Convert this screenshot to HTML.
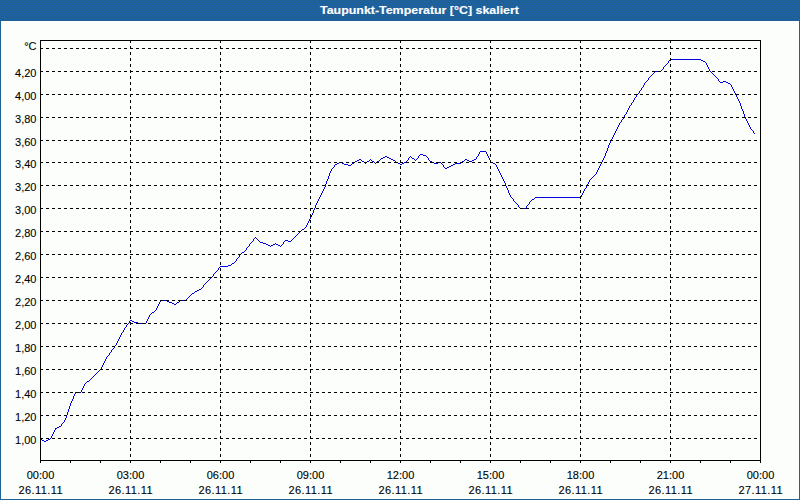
<!DOCTYPE html>
<html lang="de"><head><meta charset="utf-8"><title>Taupunkt-Temperatur [°C] skaliert</title>
<style>
html,body{margin:0;padding:0;background:#fcfefb;}
body{width:800px;height:500px;overflow:hidden;position:relative;font-family:"Liberation Sans", sans-serif;}
svg{position:absolute;left:0;top:0;display:block}
text{font-family:"Liberation Sans", sans-serif;font-size:11px;fill:#000;stroke:#000;stroke-width:0.1px}
.t{font-weight:bold;fill:#fff;font-size:11px;stroke:#fff;stroke-width:0.15px}
</style></head><body>
<svg width="800" height="500" viewBox="0 0 800 500">
<rect x="0" y="0" width="800" height="500" fill="#fcfefb"/>
<defs><pattern id="dz" width="4" height="4" patternUnits="userSpaceOnUse"><rect width="4" height="4" fill="#1e6194"/><path fill="#2365b4" d="M0 1h1v1h-1zM2 3h1v1h-1z"/></pattern></defs>
<rect x="0" y="0" width="800" height="21" fill="#1e6194"/>
<rect x="0" y="0" width="800" height="20" fill="url(#dz)" shape-rendering="crispEdges"/>
<rect x="0" y="21" width="1" height="479" fill="#1e6194"/>
<rect x="799" y="21" width="1" height="479" fill="#1e6194"/>
<rect x="0" y="499" width="800" height="1" fill="#1e6194"/>
<text class="t" x="320" y="14" textLength="199" lengthAdjust="spacingAndGlyphs">Taupunkt-Temperatur [°C] skaliert</text>
<path shape-rendering="crispEdges" fill="#0000e0" stroke="none" d="M40 439h2v1h-2zM42 440h2v1h-2zM44 441h2v1h-2zM46 440h2v1h-2zM48 439h2v1h-2zM50 438h1v1h-1zM51 436h1v2h-1zM52 434h1v2h-1zM53 432h1v2h-1zM54 430h1v2h-1zM55 428h2v1h-2zM55 429h1v1h-1zM57 427h2v1h-2zM59 426h2v1h-2zM61 424h1v2h-1zM62 423h1v1h-1zM63 422h1v1h-1zM64 420h1v2h-1zM65 418h1v2h-1zM66 415h1v3h-1zM67 412h1v3h-1zM68 409h1v3h-1zM69 406h1v3h-1zM70 403h1v3h-1zM71 401h1v2h-1zM72 399h1v2h-1zM73 396h1v3h-1zM74 394h1v2h-1zM75 392h6v1h-6zM75 393h1v1h-1zM81 390h1v2h-1zM82 388h1v2h-1zM83 386h1v2h-1zM84 384h1v2h-1zM85 383h1v1h-1zM86 382h1v1h-1zM87 381h2v1h-2zM89 380h1v1h-1zM90 379h1v1h-1zM91 378h1v1h-1zM92 377h1v1h-1zM93 376h1v1h-1zM94 375h1v1h-1zM95 374h1v1h-1zM96 373h1v1h-1zM97 372h1v1h-1zM98 371h1v1h-1zM99 370h1v1h-1zM100 369h1v1h-1zM101 367h1v2h-1zM102 365h1v2h-1zM103 363h1v2h-1zM104 361h1v2h-1zM105 359h1v2h-1zM106 357h1v2h-1zM107 356h1v1h-1zM108 355h1v1h-1zM109 353h1v2h-1zM110 352h1v1h-1zM111 350h1v2h-1zM112 349h1v1h-1zM113 348h1v1h-1zM114 346h1v2h-1zM115 345h1v1h-1zM116 343h1v2h-1zM117 341h1v2h-1zM118 339h1v2h-1zM119 337h1v2h-1zM120 335h1v2h-1zM121 333h1v2h-1zM122 332h1v1h-1zM123 330h1v2h-1zM124 328h1v2h-1zM125 327h1v1h-1zM126 325h1v2h-1zM127 324h1v1h-1zM128 323h1v1h-1zM129 321h1v2h-1zM130 320h2v1h-2zM132 321h2v1h-2zM134 322h4v1h-4zM138 323h8v1h-8zM146 321h1v2h-1zM147 319h1v2h-1zM148 317h1v2h-1zM149 315h1v2h-1zM150 314h1v1h-1zM151 313h1v1h-1zM152 312h2v1h-2zM154 311h1v1h-1zM155 310h1v1h-1zM156 308h1v2h-1zM157 306h1v2h-1zM158 304h1v2h-1zM159 302h1v2h-1zM160 300h7v1h-7zM160 301h1v1h-1zM167 301h2v1h-2zM169 302h3v1h-3zM172 303h2v1h-2zM174 304h2v1h-2zM176 303h1v1h-1zM177 302h2v1h-2zM179 301h1v1h-1zM180 300h6v1h-6zM186 299h1v1h-1zM187 298h1v1h-1zM188 297h1v1h-1zM189 296h1v1h-1zM190 295h1v1h-1zM191 294h1v1h-1zM192 293h2v1h-2zM194 292h1v1h-1zM195 291h2v1h-2zM197 290h2v1h-2zM199 289h2v1h-2zM201 288h1v1h-1zM202 287h1v1h-1zM203 285h1v2h-1zM204 284h1v1h-1zM205 283h1v1h-1zM206 282h1v1h-1zM207 281h1v1h-1zM208 280h1v1h-1zM209 279h1v1h-1zM210 278h1v1h-1zM211 277h1v1h-1zM212 276h1v1h-1zM213 274h1v2h-1zM214 273h1v1h-1zM215 272h1v1h-1zM216 271h1v1h-1zM217 270h1v1h-1zM218 268h1v2h-1zM219 267h1v1h-1zM220 266h8v1h-8zM228 265h3v1h-3zM231 264h1v1h-1zM232 263h2v1h-2zM234 262h1v1h-1zM235 261h1v1h-1zM236 259h1v2h-1zM237 258h1v1h-1zM238 257h1v1h-1zM239 255h1v2h-1zM240 254h1v1h-1zM241 253h1v1h-1zM242 252h2v1h-2zM244 251h1v1h-1zM245 250h1v1h-1zM246 248h1v2h-1zM247 247h1v1h-1zM248 246h1v1h-1zM249 244h1v2h-1zM250 243h1v1h-1zM251 242h1v1h-1zM252 241h1v1h-1zM253 239h1v2h-1zM254 238h1v1h-1zM255 237h1v1h-1zM256 238h1v1h-1zM257 239h1v1h-1zM258 240h1v1h-1zM259 241h1v1h-1zM260 242h3v1h-3zM263 243h3v1h-3zM266 244h2v1h-2zM268 245h2v1h-2zM270 246h1v1h-1zM271 245h2v1h-2zM273 244h2v1h-2zM275 243h1v1h-1zM276 244h2v1h-2zM278 245h2v1h-2zM280 246h1v1h-1zM281 245h1v1h-1zM282 244h1v1h-1zM283 242h1v2h-1zM284 241h1v1h-1zM285 240h3v1h-3zM288 241h3v1h-3zM291 240h1v1h-1zM292 239h1v1h-1zM293 238h1v1h-1zM294 237h1v1h-1zM295 236h1v1h-1zM296 235h1v1h-1zM297 234h1v1h-1zM298 233h1v1h-1zM299 232h1v1h-1zM300 231h1v1h-1zM301 230h1v1h-1zM302 229h2v1h-2zM304 228h1v1h-1zM305 227h1v1h-1zM306 225h1v2h-1zM307 223h1v2h-1zM308 221h1v2h-1zM309 219h1v2h-1zM310 217h1v2h-1zM311 215h1v2h-1zM312 213h1v2h-1zM313 210h1v3h-1zM314 208h1v2h-1zM315 205h1v3h-1zM316 203h1v2h-1zM317 201h1v2h-1zM318 199h1v2h-1zM319 197h1v2h-1zM320 195h1v2h-1zM321 193h1v2h-1zM322 191h1v2h-1zM323 189h1v2h-1zM324 187h1v2h-1zM325 184h1v3h-1zM326 181h1v3h-1zM327 179h1v2h-1zM328 176h1v3h-1zM329 173h1v3h-1zM330 171h1v2h-1zM331 169h1v2h-1zM332 168h1v1h-1zM333 167h1v1h-1zM334 165h1v2h-1zM335 164h2v1h-2zM337 163h2v1h-2zM339 162h3v1h-3zM342 163h2v1h-2zM344 164h4v1h-4zM348 165h3v1h-3zM351 164h1v1h-1zM352 163h2v1h-2zM354 162h1v1h-1zM355 161h2v1h-2zM357 160h2v1h-2zM359 159h2v1h-2zM361 160h1v1h-1zM362 161h2v1h-2zM364 162h1v1h-1zM365 163h1v1h-1zM366 162h1v1h-1zM367 161h2v1h-2zM369 160h1v1h-1zM370 159h1v1h-1zM371 160h1v1h-1zM372 161h2v1h-2zM374 162h1v1h-1zM375 163h1v1h-1zM376 162h1v1h-1zM377 161h2v1h-2zM379 160h1v1h-1zM380 159h1v1h-1zM381 158h2v1h-2zM383 157h2v1h-2zM385 156h2v1h-2zM387 157h2v1h-2zM389 158h2v1h-2zM391 159h2v1h-2zM393 160h2v1h-2zM395 161h1v1h-1zM396 162h2v1h-2zM398 163h2v1h-2zM400 164h2v1h-2zM402 163h2v1h-2zM404 162h2v1h-2zM406 161h1v1h-1zM407 160h1v1h-1zM408 158h1v2h-1zM409 157h1v1h-1zM410 156h1v1h-1zM411 157h1v1h-1zM412 158h2v1h-2zM414 159h1v1h-1zM415 160h1v1h-1zM416 159h1v1h-1zM417 158h1v1h-1zM418 156h1v2h-1zM419 155h1v1h-1zM420 154h3v1h-3zM423 155h3v1h-3zM426 156h1v1h-1zM427 157h1v1h-1zM428 158h1v2h-1zM429 160h1v1h-1zM430 161h2v1h-2zM432 162h2v1h-2zM434 163h4v1h-4zM438 162h3v1h-3zM441 163h1v1h-1zM442 164h1v1h-1zM443 165h1v2h-1zM444 167h1v1h-1zM445 168h2v1h-2zM447 167h2v1h-2zM449 166h2v1h-2zM451 165h2v1h-2zM453 164h2v1h-2zM455 163h6v1h-6zM461 162h1v1h-1zM462 161h2v1h-2zM464 160h1v1h-1zM465 159h2v1h-2zM467 160h2v1h-2zM469 161h3v1h-3zM472 160h2v1h-2zM474 159h2v1h-2zM476 157h1v2h-1zM477 156h1v1h-1zM478 154h1v2h-1zM479 152h1v2h-1zM480 151h6v1h-6zM486 152h1v2h-1zM487 154h1v2h-1zM488 156h1v2h-1zM489 158h1v2h-1zM490 160h1v2h-1zM491 162h2v1h-2zM493 163h2v1h-2zM495 164h1v1h-1zM496 165h1v2h-1zM497 167h1v2h-1zM498 169h1v2h-1zM499 171h1v2h-1zM500 173h1v2h-1zM501 175h1v2h-1zM502 177h1v2h-1zM503 179h1v2h-1zM504 181h1v2h-1zM505 183h1v3h-1zM506 186h1v2h-1zM507 188h1v2h-1zM508 190h1v3h-1zM509 193h1v2h-1zM510 195h1v2h-1zM511 197h1v1h-1zM512 198h1v1h-1zM513 199h1v2h-1zM514 201h1v1h-1zM515 202h1v1h-1zM516 203h1v1h-1zM517 204h1v1h-1zM518 205h1v2h-1zM519 207h1v1h-1zM520 208h6v1h-6zM526 206h1v2h-1zM527 205h1v1h-1zM528 204h1v1h-1zM529 202h1v2h-1zM530 201h1v1h-1zM531 200h1v1h-1zM532 199h2v1h-2zM534 198h1v1h-1zM535 197h46v1h-46zM581 195h1v2h-1zM582 193h1v2h-1zM583 191h1v2h-1zM584 189h1v2h-1zM585 188h1v1h-1zM586 186h1v2h-1zM587 184h1v2h-1zM588 182h1v2h-1zM589 180h1v2h-1zM590 179h1v1h-1zM591 178h1v1h-1zM592 177h1v1h-1zM593 176h1v1h-1zM594 175h1v1h-1zM595 174h1v1h-1zM596 172h1v2h-1zM597 170h1v2h-1zM598 168h1v2h-1zM599 166h1v2h-1zM600 164h1v2h-1zM601 162h1v2h-1zM602 160h1v2h-1zM603 158h1v2h-1zM604 156h1v2h-1zM605 153h1v3h-1zM606 151h1v2h-1zM607 148h1v3h-1zM608 145h1v3h-1zM609 143h1v2h-1zM610 141h1v2h-1zM611 139h1v2h-1zM612 137h1v2h-1zM613 135h1v2h-1zM614 133h1v2h-1zM615 131h1v2h-1zM616 129h1v2h-1zM617 127h1v2h-1zM618 125h1v2h-1zM619 123h1v2h-1zM620 122h1v1h-1zM621 120h1v2h-1zM622 119h1v1h-1zM623 117h1v2h-1zM624 115h1v2h-1zM625 114h1v1h-1zM626 112h1v2h-1zM627 110h1v2h-1zM628 108h1v2h-1zM629 106h1v2h-1zM630 105h1v1h-1zM631 103h1v2h-1zM632 102h1v1h-1zM633 100h1v2h-1zM634 98h1v2h-1zM635 97h1v1h-1zM636 95h1v2h-1zM637 94h1v1h-1zM638 93h1v1h-1zM639 91h1v2h-1zM640 90h1v1h-1zM641 88h1v2h-1zM642 87h1v1h-1zM643 85h1v2h-1zM644 83h1v2h-1zM645 82h1v1h-1zM646 81h1v1h-1zM647 80h1v1h-1zM648 78h1v2h-1zM649 77h1v1h-1zM650 76h1v1h-1zM651 75h1v1h-1zM652 74h1v1h-1zM653 73h1v1h-1zM654 72h1v1h-1zM655 71h6v1h-6zM661 70h1v1h-1zM662 69h1v1h-1zM663 67h1v2h-1zM664 66h1v1h-1zM665 65h1v1h-1zM666 64h1v1h-1zM667 63h1v1h-1zM668 61h1v2h-1zM669 60h1v1h-1zM670 59h31v1h-31zM701 60h2v1h-2zM703 61h2v1h-2zM705 62h1v1h-1zM706 63h1v2h-1zM707 65h1v2h-1zM708 67h1v2h-1zM709 69h1v2h-1zM710 71h1v1h-1zM711 72h1v1h-1zM712 73h1v1h-1zM713 74h1v1h-1zM714 75h1v1h-1zM715 76h1v1h-1zM716 77h1v1h-1zM717 78h1v1h-1zM718 79h1v2h-1zM719 81h1v1h-1zM720 82h3v1h-3zM723 81h3v1h-3zM726 82h2v1h-2zM728 83h2v1h-2zM730 84h1v1h-1zM731 85h1v2h-1zM732 87h1v2h-1zM733 89h1v2h-1zM734 91h1v2h-1zM735 93h1v2h-1zM736 95h1v2h-1zM737 97h1v2h-1zM738 99h1v2h-1zM739 101h1v2h-1zM740 103h1v3h-1zM741 106h1v3h-1zM742 109h1v2h-1zM743 111h1v3h-1zM744 114h1v3h-1zM745 117h1v2h-1zM746 119h1v2h-1zM747 121h1v2h-1zM748 123h1v2h-1zM749 125h1v2h-1zM750 127h1v2h-1zM751 129h1v1h-1zM752 130h1v1h-1zM753 131h1v2h-1zM754 133h1v1h-1z"/>
<g shape-rendering="crispEdges" stroke="#000" stroke-width="1" fill="none">
<line x1="40" y1="438.5" x2="760" y2="438.5" stroke-dasharray="3 3"/>
<line x1="40" y1="415.5" x2="760" y2="415.5" stroke-dasharray="3 3"/>
<line x1="40" y1="392.5" x2="760" y2="392.5" stroke-dasharray="3 3"/>
<line x1="40" y1="369.5" x2="760" y2="369.5" stroke-dasharray="3 3"/>
<line x1="40" y1="346.5" x2="760" y2="346.5" stroke-dasharray="3 3"/>
<line x1="40" y1="323.5" x2="760" y2="323.5" stroke-dasharray="3 3"/>
<line x1="40" y1="300.5" x2="760" y2="300.5" stroke-dasharray="3 3"/>
<line x1="40" y1="277.5" x2="760" y2="277.5" stroke-dasharray="3 3"/>
<line x1="40" y1="254.5" x2="760" y2="254.5" stroke-dasharray="3 3"/>
<line x1="40" y1="231.5" x2="760" y2="231.5" stroke-dasharray="3 3"/>
<line x1="40" y1="208.5" x2="760" y2="208.5" stroke-dasharray="3 3"/>
<line x1="40" y1="185.5" x2="760" y2="185.5" stroke-dasharray="3 3"/>
<line x1="40" y1="162.5" x2="760" y2="162.5" stroke-dasharray="3 3"/>
<line x1="40" y1="140.5" x2="760" y2="140.5" stroke-dasharray="3 3"/>
<line x1="40" y1="117.5" x2="760" y2="117.5" stroke-dasharray="3 3"/>
<line x1="40" y1="94.5" x2="760" y2="94.5" stroke-dasharray="3 3"/>
<line x1="40" y1="71.5" x2="760" y2="71.5" stroke-dasharray="3 3"/>
<line x1="40" y1="48.5" x2="760" y2="48.5" stroke-dasharray="3 3"/>
<line x1="130.5" y1="40" x2="130.5" y2="460" stroke-dasharray="3 3"/>
<line x1="220.5" y1="40" x2="220.5" y2="460" stroke-dasharray="3 3"/>
<line x1="310.5" y1="40" x2="310.5" y2="460" stroke-dasharray="3 3"/>
<line x1="400.5" y1="40" x2="400.5" y2="460" stroke-dasharray="3 3"/>
<line x1="490.5" y1="40" x2="490.5" y2="460" stroke-dasharray="3 3"/>
<line x1="580.5" y1="40" x2="580.5" y2="460" stroke-dasharray="3 3"/>
<line x1="670.5" y1="40" x2="670.5" y2="460" stroke-dasharray="3 3"/>
</g>
<g shape-rendering="crispEdges" stroke="#000" stroke-width="1" fill="none">
<rect x="40.5" y="40.5" width="720" height="420"/>
<line x1="40.5" y1="461" x2="40.5" y2="463"/>
<line x1="70.5" y1="461" x2="70.5" y2="463"/>
<line x1="100.5" y1="461" x2="100.5" y2="463"/>
<line x1="130.5" y1="461" x2="130.5" y2="463"/>
<line x1="160.5" y1="461" x2="160.5" y2="463"/>
<line x1="190.5" y1="461" x2="190.5" y2="463"/>
<line x1="220.5" y1="461" x2="220.5" y2="463"/>
<line x1="250.5" y1="461" x2="250.5" y2="463"/>
<line x1="280.5" y1="461" x2="280.5" y2="463"/>
<line x1="310.5" y1="461" x2="310.5" y2="463"/>
<line x1="340.5" y1="461" x2="340.5" y2="463"/>
<line x1="370.5" y1="461" x2="370.5" y2="463"/>
<line x1="400.5" y1="461" x2="400.5" y2="463"/>
<line x1="430.5" y1="461" x2="430.5" y2="463"/>
<line x1="460.5" y1="461" x2="460.5" y2="463"/>
<line x1="490.5" y1="461" x2="490.5" y2="463"/>
<line x1="520.5" y1="461" x2="520.5" y2="463"/>
<line x1="550.5" y1="461" x2="550.5" y2="463"/>
<line x1="580.5" y1="461" x2="580.5" y2="463"/>
<line x1="610.5" y1="461" x2="610.5" y2="463"/>
<line x1="640.5" y1="461" x2="640.5" y2="463"/>
<line x1="670.5" y1="461" x2="670.5" y2="463"/>
<line x1="700.5" y1="461" x2="700.5" y2="463"/>
<line x1="730.5" y1="461" x2="730.5" y2="463"/>
<line x1="760.5" y1="461" x2="760.5" y2="463"/>
</g>
<text x="36.5" y="444" text-anchor="end">1,00</text>
<text x="36.5" y="421" text-anchor="end">1,20</text>
<text x="36.5" y="398" text-anchor="end">1,40</text>
<text x="36.5" y="375" text-anchor="end">1,60</text>
<text x="36.5" y="352" text-anchor="end">1,80</text>
<text x="36.5" y="329" text-anchor="end">2,00</text>
<text x="36.5" y="306" text-anchor="end">2,20</text>
<text x="36.5" y="283" text-anchor="end">2,40</text>
<text x="36.5" y="260" text-anchor="end">2,60</text>
<text x="36.5" y="237" text-anchor="end">2,80</text>
<text x="36.5" y="214" text-anchor="end">3,00</text>
<text x="36.5" y="191" text-anchor="end">3,20</text>
<text x="36.5" y="168" text-anchor="end">3,40</text>
<text x="36.5" y="146" text-anchor="end">3,60</text>
<text x="36.5" y="123" text-anchor="end">3,80</text>
<text x="36.5" y="100" text-anchor="end">4,00</text>
<text x="36.5" y="77" text-anchor="end">4,20</text>
<text x="36.5" y="50" text-anchor="end">°C</text>
<text x="40.5" y="479" text-anchor="middle">00:00</text>
<text x="18.5" y="494" textLength="44" lengthAdjust="spacing">26.11.11</text>
<text x="130.5" y="479" text-anchor="middle">03:00</text>
<text x="108.5" y="494" textLength="44" lengthAdjust="spacing">26.11.11</text>
<text x="220.5" y="479" text-anchor="middle">06:00</text>
<text x="198.5" y="494" textLength="44" lengthAdjust="spacing">26.11.11</text>
<text x="310.5" y="479" text-anchor="middle">09:00</text>
<text x="288.5" y="494" textLength="44" lengthAdjust="spacing">26.11.11</text>
<text x="400.5" y="479" text-anchor="middle">12:00</text>
<text x="378.5" y="494" textLength="44" lengthAdjust="spacing">26.11.11</text>
<text x="490.5" y="479" text-anchor="middle">15:00</text>
<text x="468.5" y="494" textLength="44" lengthAdjust="spacing">26.11.11</text>
<text x="580.5" y="479" text-anchor="middle">18:00</text>
<text x="558.5" y="494" textLength="44" lengthAdjust="spacing">26.11.11</text>
<text x="670.5" y="479" text-anchor="middle">21:00</text>
<text x="648.5" y="494" textLength="44" lengthAdjust="spacing">26.11.11</text>
<text x="760.5" y="479" text-anchor="middle">00:00</text>
<text x="738.5" y="494" textLength="44" lengthAdjust="spacing">27.11.11</text>
</svg></body></html>
